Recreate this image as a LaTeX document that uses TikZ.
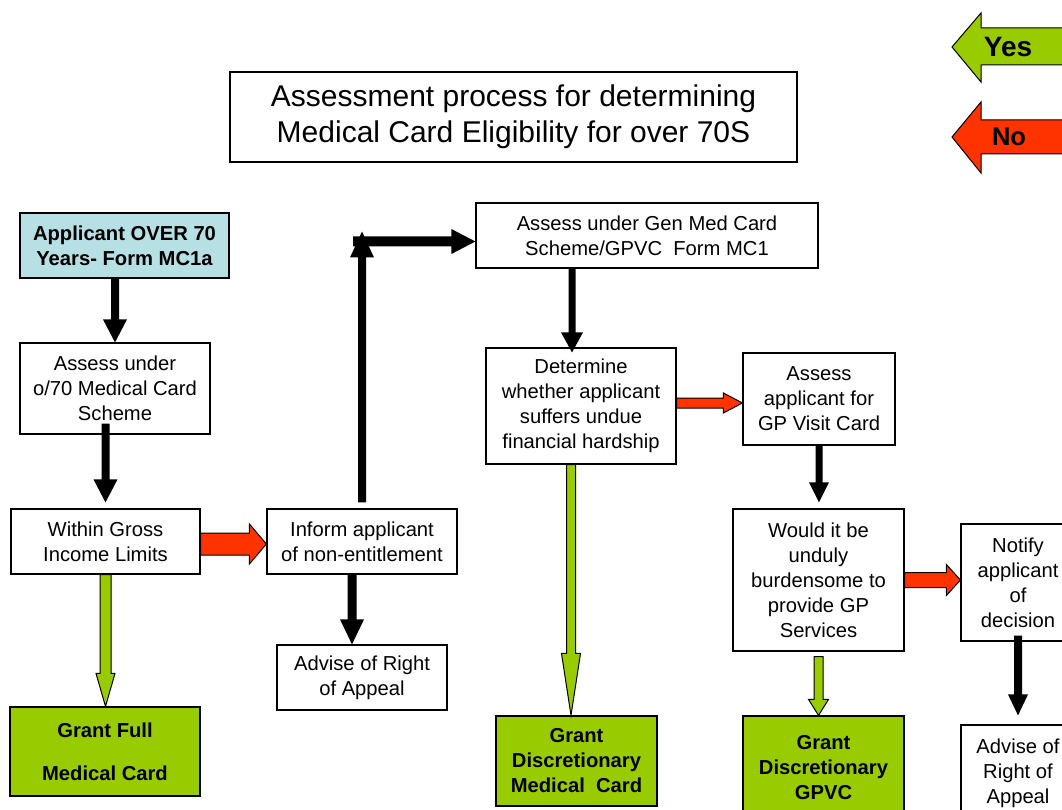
\documentclass[tikz,border=0pt]{standalone}
\usepackage{fontspec}
\setmainfont{Liberation Sans}
\usetikzlibrary{calc}
\definecolor{yesgreen}{RGB}{153,204,0}
\definecolor{nored}{RGB}{255,51,0}
\definecolor{startblue}{RGB}{183,224,228}
% block arrows: #1 start, #2 end, #3 half shaft, #4 half head, #5 head length, #6 style
\newcommand{\dnblockarrow}[6]{\path[#6] let \p1=(#1), \p2=(#2) in
  ({\x1-#3},{\y1}) -- ({\x1+#3},{\y1}) -- ({\x1+#3},{\y2+#5}) -- ({\x1+#4},{\y2+#5}) -- ({\x1},{\y2}) -- ({\x1-#4},{\y2+#5}) -- ({\x1-#3},{\y2+#5}) -- cycle;}
\newcommand{\upblockarrow}[6]{\path[#6] let \p1=(#1), \p2=(#2) in
  ({\x1-#3},{\y1}) -- ({\x1+#3},{\y1}) -- ({\x1+#3},{\y2-#5}) -- ({\x1+#4},{\y2-#5}) -- ({\x1},{\y2}) -- ({\x1-#4},{\y2-#5}) -- ({\x1-#3},{\y2-#5}) -- cycle;}
\newcommand{\rtblockarrow}[6]{\path[#6] let \p1=(#1), \p2=(#2) in
  ({\x1},{\y1+#3}) -- ({\x2-#5},{\y1+#3}) -- ({\x2-#5},{\y1+#4}) -- ({\x2},{\y1}) -- ({\x2-#5},{\y1-#4}) -- ({\x2-#5},{\y1-#3}) -- ({\x1},{\y1-#3}) -- cycle;}
\begin{document}
\begin{tikzpicture}[x=1pt,y=-1pt,
  procbox/.style={draw=black, line width=1.2pt, fill=white, inner sep=0pt, align=center, font=\fontsize{20.2}{25}\selectfont},
  grantbox/.style={procbox, fill=yesgreen, font=\fontsize{20.2}{25}\bfseries\selectfont},
  blk/.style={fill=black},
  yesarr/.style={fill=yesgreen, draw=black, line width=1pt},
  noarr/.style={fill=nored, draw=black, line width=1pt},
  legendtxt/.style={inner sep=0pt, font=\fontsize{25.5}{30}\bfseries\selectfont}]
\useasboundingbox (0,0) rectangle (1062,810);
\clip (0,0) rectangle (1062,810);
\fill[white] (0,0) rectangle (1062,810);

% legend
\path[yesarr] (952,47) -- (981,13) -- (981,28) -- (1075,28) -- (1075,65) -- (981,65) -- (981,82) -- cycle;
\node[legendtxt, font=\fontsize{28}{30}\bfseries\selectfont] (yes) at (1008,47) {Yes};
\path[noarr] (952,137) -- (981,102) -- (981,120) -- (1075,120) -- (1075,154) -- (981,154) -- (981,173) -- cycle;
\node[legendtxt] (no) at (1009,137) {No};

% title
\node[procbox, minimum width=567pt, minimum height=90pt, font=\fontsize{30}{36}\selectfont] (title) at (513.5,117) {Assessment process for determining\\Medical Card Eligibility for over 70S};

% boxes
\node[procbox, fill=startblue, font=\fontsize{20.2}{25}\bfseries\selectfont, minimum width=209pt, minimum height=65pt] (A) at (124.5,245.5) {Applicant OVER 70\\Years- Form MC1a};
\node[procbox, minimum width=190pt, minimum height=91pt] (B) at (115,388.5) {Assess under\\o/70 Medical Card\\Scheme};
\node[procbox, minimum width=189pt, minimum height=65pt] (C) at (105.5,541.5) {Within Gross\\Income Limits};
\node[procbox, minimum width=190pt, minimum height=65pt] (D) at (362,541.5) {Inform applicant\\of non-entitlement};
\node[procbox, minimum width=170pt, minimum height=65pt] (E) at (362,677.5) {Advise of Right\\of Appeal};
\node[grantbox, minimum width=190pt, minimum height=89pt, font=\fontsize{20.2}{43}\bfseries\selectfont] (GF) at (105,751.5) {Grant Full\\Medical Card};
\node[procbox, minimum width=342pt, minimum height=65pt] (F) at (647,235.5) {Assess under Gen Med Card\\Scheme/GPVC\ \ Form MC1};
\node[procbox, minimum width=190pt, minimum height=116pt] (G) at (581,406) {Determine\\whether applicant\\suffers undue\\financial hardship};
\node[procbox, minimum width=152pt, minimum height=92pt] (H) at (819,399) {Assess\\applicant for\\GP Visit Card};
\node[procbox, minimum width=171pt, minimum height=142pt] (I) at (818.5,580) {Would it be\\unduly\\burdensome to\\provide GP\\Services};
\node[procbox, minimum width=114pt, minimum height=117pt] (J) at (1018,582.5) {Notify\\applicant\\of\\decision};
\node[procbox, minimum width=114pt, minimum height=96pt] (K) at (1018,773) {Advise of\\Right of\\Appeal};
\node[grantbox, minimum width=161pt, minimum height=104pt] (L) at (823.5,768) {Grant\\Discretionary\\GPVC};
\node[grantbox, minimum width=161pt, minimum height=90pt] (M) at (576.5,761) {Grant\\Discretionary\\Medical\ \ Card};

% connectors
\coordinate (corner) at ($(D.north |- F.west)+(0,6)$);
\dnblockarrow{B.north |- A.south}{B.north}{4pt}{12pt}{23pt}{blk}
\dnblockarrow{$(C.north |- B.south)+(0,-11)$}{$(C.north)+(0,-6)$}{4pt}{12pt}{23pt}{blk}
\dnblockarrow{C.south}{GF.north}{5.5pt}{9.5pt}{33pt}{yesarr}
\rtblockarrow{$(C.east)+(0,2.5)$}{D.west}{11pt}{20pt}{17pt}{noarr}
\dnblockarrow{$(D.south)+(-10,0)$}{$(E.north)+(-10,0)$}{4.5pt}{12pt}{25pt}{blk}
\upblockarrow{$(D.north)+(0,-6)$}{$(corner)+(0,-10)$}{4pt}{12pt}{26pt}{blk}
\rtblockarrow{$(corner)+(-9,0)$}{F.west}{5pt}{12.5pt}{24pt}{blk}
\dnblockarrow{$(F.south -| G.north)+(-9,0)$}{$(G.north)+(-9,5)$}{3.5pt}{11pt}{20pt}{blk}
\dnblockarrow{$(G.south)+(-10,0)$}{M.north}{4.5pt}{9.5pt}{62pt}{yesarr}
\rtblockarrow{$(G.east)+(0,-3)$}{H.west}{5pt}{10pt}{19pt}{noarr}
\dnblockarrow{H.south}{$(I.north)+(0,-6)$}{3.5pt}{10pt}{20pt}{blk}
\dnblockarrow{$(I.south)+(0,5)$}{L.north}{4.5pt}{10pt}{16pt}{yesarr}
\rtblockarrow{I.east}{J.west}{7.5pt}{15.5pt}{14pt}{noarr}
\dnblockarrow{$(J.south)+(0,-6)$}{$(K.north)+(0,-9)$}{4pt}{10pt}{21pt}{blk}
\end{tikzpicture}
\end{document}
